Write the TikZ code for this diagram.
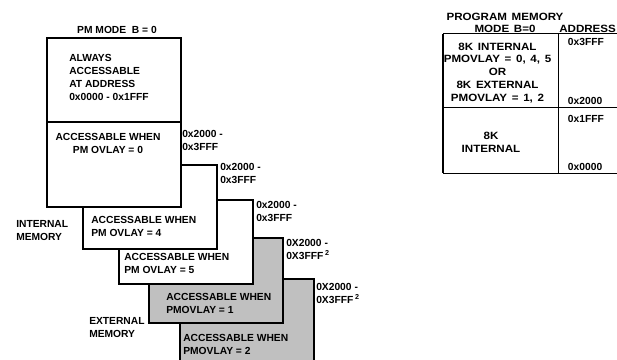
\documentclass[tikz,border=0pt]{standalone}
\usepackage{fontspec}
\setmainfont{Liberation Sans}
\newfontfamily\widefam{Liberation Sans}[FakeStretch=1.1, WordSpace=1.45]
\usepackage{tikz}
\definecolor{pmgray}{RGB}{192,192,192}
\newcommand{\pmfont}{\fontsize{7.7}{9.6}\selectfont\bfseries}
\newcommand{\tabfont}{\widefam\fontsize{7.9}{9.6}\selectfont\bfseries}
\tikzset{
  lbl/.style={font=\pmfont, inner sep=0pt, align=left, anchor=north west},
  clbl/.style={font=\pmfont, inner sep=0pt, align=center, anchor=north},
  tlbl/.style={font=\tabfont, inner sep=0pt, align=center, anchor=north},
  addr/.style={font=\pmfont, inner sep=0pt, anchor=base west},
  ovbox/.style={draw, line width=1.1pt, fill=white},
  extbox/.style={ovbox, fill=pmgray},
  tabline/.style={line width=0.8pt}
}
\begin{document}
\begin{tikzpicture}[x=0.75pt, y=-0.75pt]
	%\draw[help lines] (0,0) grid (617,360);
	\useasboundingbox (0,0) rectangle (617,360);
	% overlay pages, back to front
	\draw[extbox] (180,279) rectangle (314,364);
	\draw[extbox] (149,238) rectangle (283,323);
	\draw[ovbox] (119,200) rectangle (253,284);
	\draw[ovbox] (83,165) rectangle (217,249);
	\draw[ovbox] (47,38) rectangle (181,207);
	\draw[line width=1.1pt] (47,122) -- (181,122);
	\node[font=\pmfont, inner sep=0pt, anchor=base] (pmmode) at (117,34) {PM MODE~~B = 0};
	\node[lbl] (always) at (69,54.5) {ALWAYS\\ACCESSABLE\\AT ADDRESS\\0x0000 - 0x1FFF};
	\node[clbl] (ovlay0) at (108,133.5) {ACCESSABLE WHEN\\PM OVLAY = 0};
	\node[lbl] (addr0) at (182,130) {0x2000 -\\0x3FFF};
	\node[lbl] (addr4) at (220,163.5) {0x2000 -\\0x3FFF};
	\node[lbl] (ovlay4) at (91,216.5) {ACCESSABLE WHEN\\PM OVLAY = 4};
	\node[lbl] (addr5) at (256,200.8) {0x2000 -\\0x3FFF};
	\node[lbl] (ovlay5) at (124,253.5) {ACCESSABLE WHEN\\PM OVLAY = 5};
	\node[lbl] (addr1) at (286,239.2) {0X2000 -\\0X3FFF\,\textsuperscript{2}};
	\node[lbl] (ovlay1) at (166,293.5) {ACCESSABLE WHEN\\PMOVLAY = 1};
	\node[lbl] (addr2) at (316,283.5) {0X2000 -\\0X3FFF\,\textsuperscript{2}};
	\node[lbl] (ovlay2) at (183,334.5) {ACCESSABLE WHEN\\PMOVLAY = 2};
	\node[lbl] (intmem) at (16,220.5) {INTERNAL\\MEMORY};
	\node[lbl] (extmem) at (89,317.5) {EXTERNAL\\MEMORY};
	% memory map table
	\draw[tabline] (443,33.7) -- (617,33.7);
	\draw[tabline] (443,107.3) -- (617,107.3);
	\draw[tabline] (443,173.3) -- (617,173.3);
	\draw[tabline] (443,33.7) -- (443,173.3);
	\draw[tabline] (558.3,33.7) -- (558.3,173.3);
	\node[tlbl] (progmem) at (505,12.5) {PROGRAM MEMORY\\MODE B=0};
	\node[font=\tabfont, inner sep=0pt, anchor=base west] (address) at (559,32.3) {ADDRESS};
	\node[tlbl] (upper) at (497.5,42.5) {8K INTERNAL\\PMOVLAY = 0, 4, 5\\OR\\8K EXTERNAL\\PMOVLAY = 1, 2};
	\node[tlbl] (lower) at (491,131.8) {8K\\INTERNAL};
	\node[addr] (a3fff) at (567.7,45.7) {0x3FFF};
	\node[addr] (a2000) at (567.7,104.7) {0x2000};
	\node[addr] (a1fff) at (567.7,122.3) {0x1FFF};
	\node[addr] (a0000) at (567.7,170.7) {0x0000};
\end{tikzpicture}
\end{document}
